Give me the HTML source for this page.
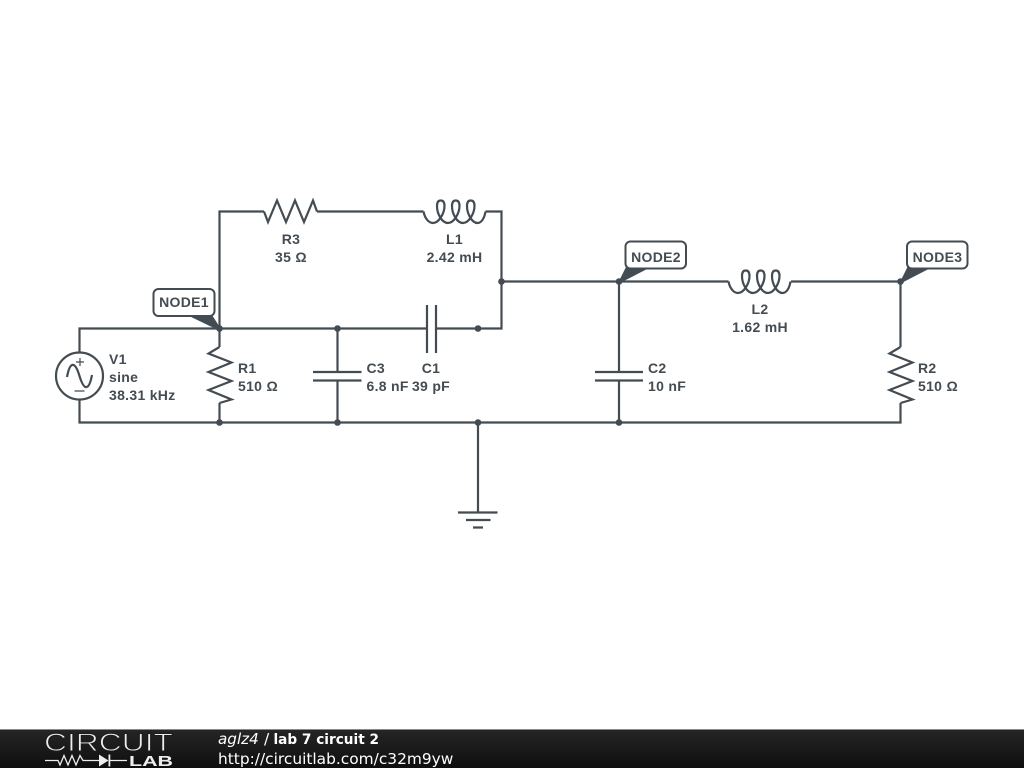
<!DOCTYPE html>
<html>
<head>
<meta charset="utf-8">
<title>lab 7 circuit 2</title>
<style>
html,body{margin:0;padding:0;background:#fff;width:1024px;height:768px;overflow:hidden}
svg{display:block;position:absolute;left:0;top:0}
.w{fill:none;stroke:#424c52;stroke-width:2.2;stroke-linejoin:miter}
.d{fill:#424c52}
.t{font-family:"Liberation Sans",sans-serif;font-weight:bold;font-size:14px;fill:#424c52;letter-spacing:.3px}
.m{text-anchor:middle}
.f{font-family:"DejaVu Sans",sans-serif;font-size:15.4px;fill:#fff}
</style>
</head>
<body>
<svg width="1024" height="768" viewBox="0 0 1024 768" xmlns="http://www.w3.org/2000/svg">
<defs>
<linearGradient id="bar" x1="0" y1="0" x2="0" y2="1">
<stop offset="0" stop-color="#262626"/><stop offset="1" stop-color="#0e0e0e"/>
</linearGradient>
</defs>

<!-- wires -->
<path class="w" d="M79.5,352V328.5H427M436,328.5H501.5V211.5H485.5M423.5,211.5H317M264,211.5H219.5V347"/>
<path class="w" d="M79.5,400V422.5H900.5V403"/>
<path class="w" d="M219.5,403V422.5"/>
<path class="w" d="M501.5,281.5H728.5M791,281.5H900.5V347"/>
<path class="w" d="M337.5,328.5V372M337.5,380V422.5"/>
<path class="w" d="M619,281.5V372M619,380V422.5"/>
<path class="w" d="M478,422.5V512"/>

<!-- ground -->
<path class="w" d="M458,512.5H497.5M466,520H490.5M473,527.5H483"/>

<!-- capacitors -->
<path class="w" d="M427,305V353M436,305V353"/>
<path class="w" d="M313,372H361.5M313,380.5H361.5"/>
<path class="w" d="M595,372H643M595,380.5H643"/>

<!-- resistors -->
<path class="w" d="M219.5,347L208.5,353.5L231.5,362.5L208.5,372L231.5,381L208.5,390L231.5,399.5L219.5,403"/>
<path class="w" d="M900.5,347L889.5,353.5L912.5,362.5L889.5,372L912.5,381L889.5,390L912.5,399.5L900.5,403"/>
<path class="w" d="M264,211.5L268,222L277,200.5L286,222L295,200.5L304,222L313,200.5L317,211.5"/>

<!-- inductors -->
<path class="w" d="M423.5,211.5C425,219 429,223 433,223C439,223 444.5,213 444.5,206C444.5,202 443,200.5 440.7,200.5C438.4,200.5 437,202 437,206C437,214 442,223 448,223C454,223 459.5,213 459.5,206C459.5,202 458,200.5 455.7,200.5C453.4,200.5 452,202 452,206C452,214 457,223 463,223C469,223 474.5,213 474.5,206C474.5,202 473,200.5 470.7,200.5C468.4,200.5 467,202 467,206C467,214 472,223 477.5,223C481.5,223 484.5,218 485.5,211.5"/>
<path class="w" transform="translate(305,70)" d="M423.5,211.5C425,219 429,223 433,223C439,223 444.5,213 444.5,206C444.5,202 443,200.5 440.7,200.5C438.4,200.5 437,202 437,206C437,214 442,223 448,223C454,223 459.5,213 459.5,206C459.5,202 458,200.5 455.7,200.5C453.4,200.5 452,202 452,206C452,214 457,223 463,223C469,223 474.5,213 474.5,206C474.5,202 473,200.5 470.7,200.5C468.4,200.5 467,202 467,206C467,214 472,223 477.5,223C481.5,223 484.5,218 485.5,211.5"/>

<!-- source -->
<circle class="w" cx="79.5" cy="376" r="23.5"/>
<path class="w" d="M67,377C70,361 75,361 79.5,376C84,391 89,391 92,375"/>
<path class="w" style="stroke-width:1.2" d="M76,362H84M80,358V366M74.5,391H84.5"/>

<!-- node tags -->
<path class="d" d="M187,315L212,315L221,329L218,330Z"/>
<path class="d" d="M618,283L626,267L651,267L620,283Z"/>
<path class="d" d="M899.5,283L907.5,267L932.5,267L901.5,283Z"/>
<rect x="153.5" y="289" width="61" height="27" rx="5" fill="#fff" stroke="#424c52" stroke-width="2"/>
<rect x="625.5" y="241.5" width="60.5" height="27" rx="5" fill="#fff" stroke="#424c52" stroke-width="2"/>
<rect x="907" y="241.5" width="60.5" height="27" rx="5" fill="#fff" stroke="#424c52" stroke-width="2"/>

<!-- junctions -->
<circle class="d" cx="219.5" cy="328.5" r="3.3"/>
<circle class="d" cx="219.5" cy="422.5" r="3.3"/>
<circle class="d" cx="337.5" cy="328.5" r="3.3"/>
<circle class="d" cx="337.5" cy="422.5" r="3.3"/>
<circle class="d" cx="478" cy="328.5" r="3.3"/>
<circle class="d" cx="478" cy="422.5" r="3.3"/>
<circle class="d" cx="501.5" cy="281.5" r="3.3"/>
<circle class="d" cx="619" cy="281.5" r="3.3"/>
<circle class="d" cx="619" cy="422.5" r="3.3"/>
<circle class="d" cx="900.5" cy="281.5" r="3.3"/>

<!-- labels -->
<text class="t m" x="184" y="307">NODE1</text>
<text class="t m" x="656" y="262">NODE2</text>
<text class="t m" x="937.5" y="262">NODE3</text>
<text class="t" x="109" y="364">V1</text>
<text class="t" x="109" y="382">sine</text>
<text class="t" x="109" y="400">38.31 kHz</text>
<text class="t" x="238" y="373">R1</text>
<text class="t" x="238" y="391">510 Ω</text>
<text class="t m" x="291" y="244">R3</text>
<text class="t m" x="291" y="262">35 Ω</text>
<text class="t m" x="454.5" y="244">L1</text>
<text class="t m" x="454.5" y="262">2.42 mH</text>
<text class="t" x="366.5" y="373">C3</text>
<text class="t" x="366.5" y="391">6.8 nF</text>
<text class="t m" x="431" y="373">C1</text>
<text class="t m" x="431" y="391">39 pF</text>
<text class="t" x="648" y="373">C2</text>
<text class="t" x="648" y="391">10 nF</text>
<text class="t m" x="760" y="314">L2</text>
<text class="t m" x="760" y="332">1.62 mH</text>
<text class="t" x="918" y="373">R2</text>
<text class="t" x="918" y="391">510 Ω</text>

<!-- footer -->
<rect x="0" y="729" width="1024" height="39" fill="url(#bar)"/>
<rect x="0" y="729" width="1024" height="1" fill="#8a8a8a"/>
<text x="44" y="751" textLength="129" lengthAdjust="spacingAndGlyphs" style="font-family:'Liberation Sans',sans-serif;font-size:25px;fill:#eee;stroke:#1c1c1c;stroke-width:.9">CIRCUIT</text>
<path fill="none" stroke="#eee" stroke-width="1.3" d="M45,760.5H58L60,765L64,755.5L68,765L72,755.5L76,765L80,755.5L83,760.5H99M110,760.5H127"/>
<path fill="#eee" d="M99,754.5L108.5,760.5L99,766.5Z"/>
<rect x="108.5" y="754.5" width="1.8" height="12" fill="#eee"/>
<text x="129" y="766" textLength="44" lengthAdjust="spacingAndGlyphs" style="font-family:'Liberation Sans',sans-serif;font-weight:bold;font-size:15px;fill:#eee">LAB</text>
<text class="f" x="218" y="744" font-style="italic" style="font-size:15.2px;font-style:italic">aglz4</text>
<text class="f" x="264" y="744">/</text>
<text class="f" x="273.5" y="744" textLength="105.500" lengthAdjust="spacingAndGlyphs" style="font-size:14px;font-weight:bold">lab 7 circuit 2</text>
<text class="f" x="218" y="764">http://circuitlab.com/c32m9yw</text>
</svg>
</body>
</html>
